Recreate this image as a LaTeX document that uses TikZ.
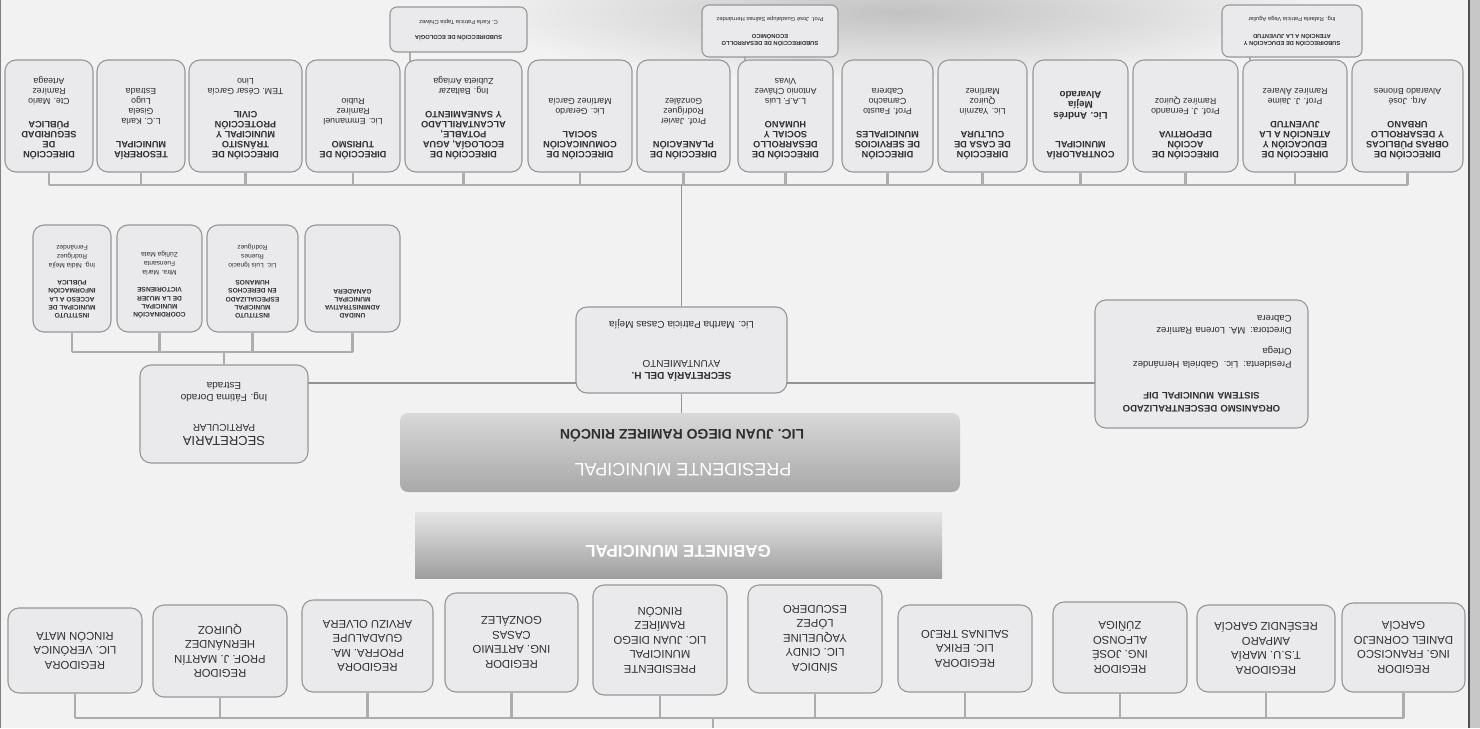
\documentclass[tikz,border=0pt]{standalone}
\usepackage{fontspec}
\setmainfont{Liberation Sans}
\usetikzlibrary{calc}
\pgfdeclarelayer{back}
\pgfdeclarelayer{conn}
\pgfsetlayers{back,conn,main}
\definecolor{bgc}{HTML}{F2F2F2}
\definecolor{boxfill}{HTML}{EAEAED}
\definecolor{boxline}{HTML}{979797}
\definecolor{connc}{HTML}{ADADAD}
\definecolor{txt}{HTML}{2E2E2E}
\newcommand{\topbx}[3]{\parbox[c][104pt][t]{#1pt}{\centering\vspace*{8pt}{\fontsize{9.2}{10}\selectfont\bfseries #2\par}\vspace{13pt}{\fontsize{8.8}{10}\selectfont #3\par}}}
\newcommand{\subbx}[3]{\parbox[c][100pt][t]{#1pt}{\centering\vspace*{10pt}{\fontsize{6.6}{8.3}\selectfont\bfseries #2\par}\vspace{9pt}{\fontsize{6.6}{8.6}\selectfont #3\par}}}
\tikzset{
  obox/.style={draw=boxline, line width=1.1pt, fill=boxfill, rounded corners=11pt, rotate=180, inner sep=0pt, align=center, text=txt},
  rbox/.style={obox, font=\fontsize{11.3}{14.5}\selectfont},
  minibox/.style={obox, rounded corners=7pt, font=\fontsize{5.8}{7}\selectfont},
  conn/.style={draw=connc, line width=2.6pt},
  mline/.style={draw=black!42, line width=1.4pt},
  btxt/.style={rotate=180, inner sep=0pt},
}
\begin{document}
\begin{tikzpicture}[x=1pt,y=-1pt]
\useasboundingbox (0,0) rectangle (1480,728);
\begin{pgfonlayer}{back}
  \fill[bgc] (0,0) rectangle (1480,728);
  \shade[inner color=black!24, outer color=bgc] (900,12) ellipse [x radius=430, y radius=70];
  \fill[black!22] (1470,0) rectangle (1480,728);
  \draw[black!70, line width=2.5pt] (1469,0) -- (1469,728);
  \draw[black!50, line width=1.4pt] (0.7,0) -- (0.7,728);
\end{pgfonlayer}

% ---------- small top boxes ----------
\node[minibox, minimum width=137, minimum height=45] (sa) at (458.5,29.5)
  {\textbf{SUBDIRECCIÓN DE ECOLOGÍA}\\[8pt]C. Karla Patricia Tapia Chávez};
\node[minibox, minimum width=136, minimum height=52] (sbb) at (770,31)
  {\textbf{SUBDIRECCIÓN DE DESARROLLO}\\\textbf{ECONÓMICO}\\[10pt]Prof. José Guadalupe Salinas Hernández};
\node[minibox, minimum width=140, minimum height=52] (sc) at (1292,31)
  {\textbf{SUBDIRECCIÓN DE EDUCACIÓN Y}\\\textbf{ATENCIÓN A LA JUVENTUD}\\[10pt]Ing. Rafaela Patricia Vega Aguilar};

% ---------- top row ----------
\node[obox, minimum width=88, minimum height=112] (t1) at (49,116)
  {\topbx{84}{DIRECCIÓN\\DE\\SEGURIDAD\\PÚBLICA}{Cte. Mario\\Ramírez\\Arteaga}};
\node[obox, minimum width=88, minimum height=112] (t2) at (141,116)
  {\topbx{84}{TESORERÍA\\MUNICIPAL}{L.C. Karla\\Gisela\\Lugo\\Estrada}};
\node[obox, minimum width=113, minimum height=112] (t3) at (245.5,116)
  {\topbx{106}{DIRECCIÓN DE\\TRÁNSITO\\MUNICIPAL Y\\PROTECCIÓN\\CIVIL}{TEM. César García\\Lino}};
\node[obox, minimum width=94, minimum height=112] (t4) at (353,116)
  {\topbx{88}{DIRECCIÓN DE\\TURISMO}{Lic. Emmanuel\\Ramírez\\Rubio}};
\node[obox, minimum width=117, minimum height=112] (t5) at (463.5,116)
  {\topbx{110}{DIRECCIÓN DE\\ECOLOGÍA, AGUA\\POTABLE,\\ALCANTARILLADO\\Y SANEAMIENTO}{Ing. Baltazar\\Zubieta Arriaga}};
\node[obox, minimum width=104, minimum height=112] (t6) at (580,116)
  {\topbx{98}{DIRECCIÓN DE\\COMUNICACIÓN\\SOCIAL}{Lic. Gerardo\\Martínez García}};
\node[obox, minimum width=93, minimum height=112] (t7) at (683.5,116)
  {\topbx{88}{DIRECCIÓN DE\\PLANEACIÓN}{Prof. Javier\\Rodríguez\\González}};
\node[obox, minimum width=95, minimum height=112] (t8) at (785.5,116)
  {\topbx{90}{DIRECCIÓN DE\\DESARROLLO\\SOCIAL Y\\HUMANO}{L.A.F. Luis\\Antonio Chávez\\Vivas}};
\node[obox, minimum width=91, minimum height=112] (t9) at (887.5,116)
  {\topbx{86}{DIRECCIÓN\\DE SERVICIOS\\MUNICIPALES}{Prof. Fausto\\Camacho\\Cabrera}};
\node[obox, minimum width=89, minimum height=112] (t10) at (982.5,116)
  {\topbx{84}{DIRECCIÓN\\DE CASA DE\\CULTURA}{Lic. Yazmín\\Quiroz\\Martínez}};
\node[obox, minimum width=95, minimum height=112] (t11) at (1080.5,116)
  {\topbx{90}{CONTRALORÍA\\MUNICIPAL}{\vspace*{6pt}\fontsize{9.8}{10.5}\selectfont\bfseries Lic. Andrés\\Mejía\\Alvarado}};
\node[obox, minimum width=105, minimum height=112] (t12) at (1185.5,116)
  {\topbx{100}{DIRECCIÓN DE\\ACCIÓN\\DEPORTIVA}{Prof. J. Fernando\\Ramírez Quiroz}};
\node[obox, minimum width=104, minimum height=112] (t13) at (1295,116)
  {\topbx{98}{DIRECCIÓN DE\\EDUCACIÓN Y\\ATENCIÓN A LA\\JUVENTUD}{Prof. J. Jaime\\Ramírez Álvarez}};
\node[obox, minimum width=111, minimum height=112] (t14) at (1407.5,116)
  {\topbx{104}{DIRECCIÓN DE\\OBRAS PÚBLICAS\\Y DESARROLLO\\URBANO}{Arq. José\\Alvarado Briones}};

% ---------- second row (under secretaria particular) ----------
\node[obox, minimum width=78, minimum height=107] (s1) at (72,278.5)
  {\subbx{74}{INSTITUTO\\MUNICIPAL DE\\ACCESO A LA\\INFORMACIÓN\\PÚBLICA}{Ing. Nidia Mejía\\Rodríguez\\Fernández}};
\node[obox, minimum width=85, minimum height=107] (s2) at (159.5,278.5)
  {\subbx{80}{COORDINACIÓN\\MUNICIPAL\\DE LA MUJER\\VICTORIENSE}{Mtra. María\\Fuensanta\\Zúñiga Mata}};
\node[obox, minimum width=91, minimum height=107] (s3) at (252.5,278.5)
  {\subbx{86}{INSTITUTO\\MUNICIPAL\\ESPECIALIZADO\\EN DERECHOS\\HUMANOS}{Lic. Luis Ignacio\\Ruenes\\Rodríguez}};
\node[obox, minimum width=95, minimum height=107] (s4) at (352.5,278.5)
  {\subbx{90}{UNIDAD\\ADMINISTRATIVA\\MUNICIPAL\\GANADERA}{}};

% ---------- middle ----------
\node[obox, minimum width=168, minimum height=98] (sp) at (224,414)
  {\fontsize{13}{16}\selectfont SECRETARIA\\PARTICULAR\\[18pt]Ing. Fátima Dorado\\Estrada};
\node[obox, minimum width=211, minimum height=86] (sec) at (681.5,350)
  {\fontsize{10}{12}\selectfont\bfseries SECRETARÍA DEL H.\\AYUNTAMIENTO\\[27pt]\normalfont\fontsize{10}{12}\selectfont Lic. Martha Patricia Casas Mejía};
\node[obox, minimum width=213, minimum height=128, align=left, text width=180] (dif) at (1201.5,364)
  {\fontsize{9.5}{13.5}\selectfont\makebox[180pt][c]{\bfseries ORGANISMO DESCENTRALIZADO}\\\makebox[180pt][c]{\bfseries SISTEMA MUNICIPAL DIF}\\[17pt]Presidenta: Lic. Gabriela Hernández\\Ortega\\[7pt]Directora: MA. Lorena Ramírez\\Cabrera};

% ---------- bands ----------
\node[minimum width=560, minimum height=79, inner sep=0pt, rounded corners=8pt,
      top color=black!15, bottom color=black!34] (pres) at (680,452.5) {};
\node[btxt, text=black!82, font=\bfseries\fontsize{14}{16}\selectfont] (presn) at (682,436) {LIC. JUAN DIEGO RAMIREZ RINCÓN};
\node[btxt, text=white, font=\fontsize{18}{20}\selectfont] (prest) at (683,470) {PRESIDENTE MUNICIPAL};
\node[minimum width=527, minimum height=66, inner sep=0pt,
      top color=black!10, bottom color=black!38] (gab) at (678.5,545) {};
\node[btxt, text=white, font=\bfseries\fontsize{17}{20}\selectfont] (gabt) at (678,551) {GABINETE MUNICIPAL};

% ---------- bottom row ----------
\node[rbox, minimum width=134, minimum height=85] (b1) at (75,650.5) {REGIDORA\\LIC. VERÓNICA\\RINCÓN MATA};
\node[rbox, minimum width=134, minimum height=92] (b2) at (220,651) {REGIDOR\\PROF. J. MARTÍN\\HERNÁNDEZ\\QUIROZ};
\node[rbox, minimum width=131, minimum height=92] (b3) at (367.5,646) {REGIDORA\\PROFRA. MA.\\GUADALUPE\\ARVIZU OLVERA};
\node[rbox, minimum width=133, minimum height=99] (b4) at (511.5,642.5) {REGIDOR\\ING. ARTEMIO\\CASAS\\GONZÁLEZ};
\node[rbox, minimum width=134, minimum height=110] (b5) at (660,640) {PRESIDENTE\\MUNICIPAL\\LIC. JUAN DIEGO\\RAMÍREZ\\RINCÓN};
\node[rbox, minimum width=134, minimum height=108] (b6) at (815,639) {SÍNDICA\\LIC. CINDY\\YAQUELINE\\LÓPEZ\\ESCUDERO};
\node[rbox, minimum width=134, minimum height=87] (b7) at (965,648.5) {REGIDORA\\LIC. ERIKA\\SALINAS TREJO};
\node[rbox, minimum width=134, minimum height=91] (b8) at (1120,647.5) {REGIDOR\\ING. JOSÉ\\ALFONSO\\ZÚÑIGA};
\node[rbox, minimum width=138, minimum height=87] (b9) at (1266,648.5) {REGIDORA\\T.S.U. MARÍA\\AMPARO\\RESÉNDIZ GARCÍA};
\node[rbox, minimum width=123, minimum height=89] (b10) at (1403.5,647.5) {REGIDOR\\ING. FRANCISCO\\DANIEL CORNEJO\\GARCÍA};

% ---------- connector coordinates ----------
\coordinate (bT) at (0,185);
\coordinate (bS) at (0,352);
\coordinate (bB) at (0,718);
\coordinate (hl) at (0,383);
\coordinate (bot) at (713,728);
\coordinate (ca) at (410,0);
\coordinate (cb) at (745,0);
\coordinate (cc) at (1250,0);

\begin{pgfonlayer}{conn}
  % top bus
  \draw[conn] (t1 |- bT) -- (t14 |- bT);
  \foreach \n in {t1,t2,t3,t4,t5,t6,t7,t8,t9,t10,t11,t12,t13,t14}
    \draw[conn] (\n) -- (\n |- bT);
  % subdirections
  \draw[conn, line width=1.8pt] (ca |- sa) -- (ca |- t5);
  \draw[conn, line width=1.8pt] (cb |- sbb) -- (cb |- t8);
  \draw[conn, line width=1.8pt] (cc |- sc) -- (cc |- t13);
  % main vertical
  \draw[mline] (sec |- bT) -- (sec);
  \draw[mline] (sec) -- (sec |- pres.north);
  % horizontal across
  \draw[mline, line width=1.6pt] (hl -| sp) -- (hl -| dif);
  % second row bus
  \draw[conn, line width=2.2pt] (s1 |- bS) -- (s4 |- bS);
  \foreach \n in {s1,s2,s3,s4}
    \draw[conn, line width=2.2pt] (\n) -- (\n |- bS);
  \draw[conn, line width=2.2pt] (sp) -- (sp |- bS);
  % bottom bus
  \draw[conn] (b1 |- bB) -- (b10 |- bB);
  \foreach \n in {b1,b2,b3,b4,b5,b6,b7,b8,b9,b10}
    \draw[conn] (\n) -- (\n |- bB);
  \draw[conn] (bot |- bB) -- (bot);
\end{pgfonlayer}
\end{tikzpicture}
\end{document}
